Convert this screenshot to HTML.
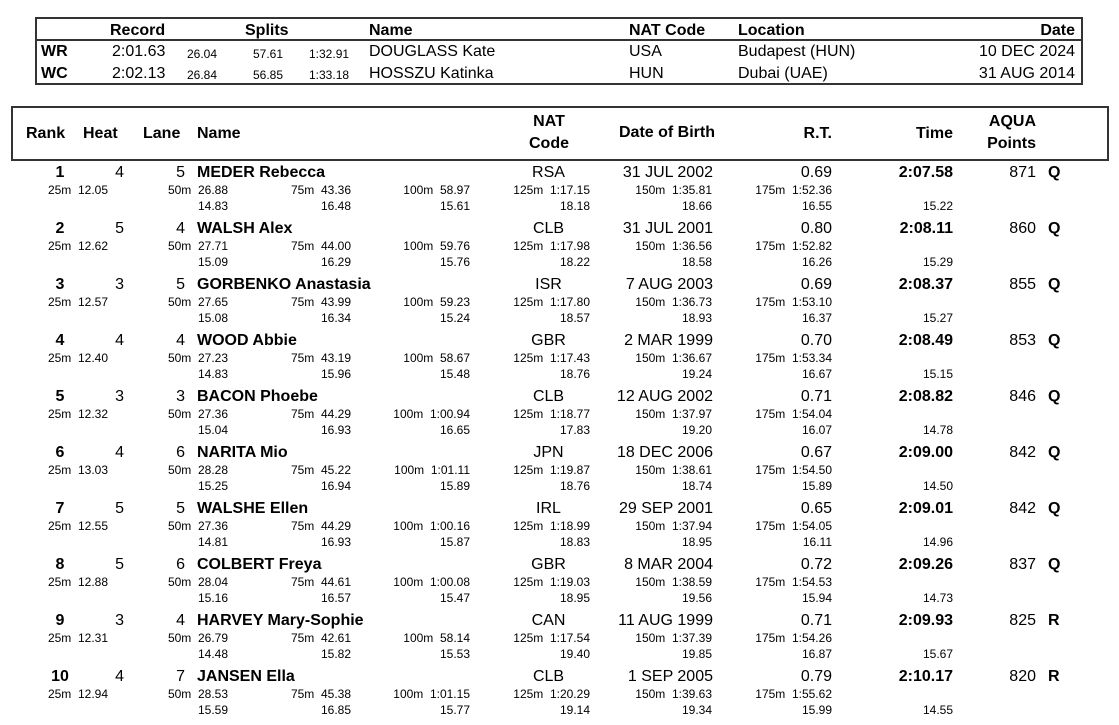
<!DOCTYPE html>
<html><head><meta charset="utf-8">
<style>
*{margin:0;padding:0;box-sizing:border-box}
body{width:1119px;height:718px;background:#fff;position:relative;overflow:hidden;font-family:"Liberation Sans",Arial,sans-serif;color:#000}
.a{position:absolute;white-space:pre;line-height:1}
.b{font-weight:bold}
.f16{font-size:16px}
.f12{font-size:12px}
.box{position:absolute;border:2px solid #333}
.hl{position:absolute;height:2px;background:#333}
.r{position:absolute;left:0;width:1119px;height:56px}
.r .a{font-size:16px;top:0}
.r .l1,.r .l2{font-size:12px}
.r .l1{top:19px}
.r .l2{top:35px}
.rk{left:36px;width:48px;text-align:center;font-weight:bold}
.ht{right:995px}
.ln{right:934px}
.nm{left:197px;font-weight:bold}
.nc{left:518px;width:61px;text-align:center}
.db{right:406px}
.rt{right:287px}
.tm{right:166px;font-weight:bold}
.pt{right:83px}
.q{left:1048px;font-weight:bold}
.c25{right:1011px}
.c50{right:891px}
.c75{right:768px}
.c100{right:649px}
.c125{right:529px}
.c150{right:407px}
.c175{right:287px}
.cf{right:166px}
</style></head><body>

<!-- Record table -->
<div class="box" style="left:35px;top:17px;width:1048px;height:68px"></div>
<div class="hl" style="left:35px;top:39px;width:1048px"></div>
<div class="a b f16" style="left:110px;top:22.5px">Record</div>
<div class="a b f16" style="left:245px;top:22.5px">Splits</div>
<div class="a b f16" style="left:369px;top:22.5px">Name</div>
<div class="a b f16" style="left:629px;top:22.5px">NAT Code</div>
<div class="a b f16" style="left:738px;top:22.5px">Location</div>
<div class="a b f16" style="right:44px;top:22.5px">Date</div>

<div class="a b f16" style="left:41px;top:44px">WR</div>
<div class="a f16" style="left:112px;top:44px">2:01.63</div>
<div class="a f12" style="left:187px;top:47.5px">26.04</div>
<div class="a f12" style="left:253px;top:47.5px">57.61</div>
<div class="a f12" style="left:309px;top:47.5px">1:32.91</div>
<div class="a f16" style="left:369px;top:44px">DOUGLASS Kate</div>
<div class="a f16" style="left:629px;top:44px">USA</div>
<div class="a f16" style="left:738px;top:44px">Budapest (HUN)</div>
<div class="a f16" style="right:44px;top:44px">10 DEC 2024</div>

<div class="a b f16" style="left:41px;top:65.5px">WC</div>
<div class="a f16" style="left:112px;top:65.5px">2:02.13</div>
<div class="a f12" style="left:187px;top:69px">26.84</div>
<div class="a f12" style="left:253px;top:69px">56.85</div>
<div class="a f12" style="left:309px;top:69px">1:33.18</div>
<div class="a f16" style="left:369px;top:65.5px">HOSSZU Katinka</div>
<div class="a f16" style="left:629px;top:65.5px">HUN</div>
<div class="a f16" style="left:738px;top:65.5px">Dubai (UAE)</div>
<div class="a f16" style="right:44px;top:65.5px">31 AUG 2014</div>

<!-- Main header -->
<div class="box" style="left:11px;top:106px;width:1098px;height:55px"></div>
<div class="a b f16" style="left:26px;top:125.5px">Rank</div>
<div class="a b f16" style="left:83px;top:125.5px">Heat</div>
<div class="a b f16" style="left:143px;top:125.5px">Lane</div>
<div class="a b f16" style="left:197px;top:125.5px">Name</div>
<div class="a b f16" style="left:518px;width:62px;text-align:center;top:113.5px">NAT</div>
<div class="a b f16" style="left:518px;width:62px;text-align:center;top:135.5px">Code</div>
<div class="a b f16" style="left:619px;top:124.5px">Date of Birth</div>
<div class="a b f16" style="right:287px;top:125.5px">R.T.</div>
<div class="a b f16" style="right:166px;top:125.5px">Time</div>
<div class="a b f16" style="right:83px;top:113.5px">AQUA</div>
<div class="a b f16" style="right:83px;top:135.5px">Points</div>

<!-- Rows -->
<div class="r" style="top:165px">
<div class="a rk">1</div><div class="a ht">4</div><div class="a ln">5</div><div class="a nm">MEDER Rebecca</div><div class="a nc">RSA</div><div class="a db">31 JUL 2002</div><div class="a rt">0.69</div><div class="a tm">2:07.58</div><div class="a pt">871</div><div class="a q">Q</div>
<div class="a l1 c25">25m  12.05</div><div class="a l1 c50">50m  26.88</div><div class="a l1 c75">75m  43.36</div><div class="a l1 c100">100m  58.97</div><div class="a l1 c125">125m  1:17.15</div><div class="a l1 c150">150m  1:35.81</div><div class="a l1 c175">175m  1:52.36</div>
<div class="a l2 c50">14.83</div><div class="a l2 c75">16.48</div><div class="a l2 c100">15.61</div><div class="a l2 c125">18.18</div><div class="a l2 c150">18.66</div><div class="a l2 c175">16.55</div><div class="a l2 cf">15.22</div>
</div>

<div class="r" style="top:221px">
<div class="a rk">2</div><div class="a ht">5</div><div class="a ln">4</div><div class="a nm">WALSH Alex</div><div class="a nc">CLB</div><div class="a db">31 JUL 2001</div><div class="a rt">0.80</div><div class="a tm">2:08.11</div><div class="a pt">860</div><div class="a q">Q</div>
<div class="a l1 c25">25m  12.62</div><div class="a l1 c50">50m  27.71</div><div class="a l1 c75">75m  44.00</div><div class="a l1 c100">100m  59.76</div><div class="a l1 c125">125m  1:17.98</div><div class="a l1 c150">150m  1:36.56</div><div class="a l1 c175">175m  1:52.82</div>
<div class="a l2 c50">15.09</div><div class="a l2 c75">16.29</div><div class="a l2 c100">15.76</div><div class="a l2 c125">18.22</div><div class="a l2 c150">18.58</div><div class="a l2 c175">16.26</div><div class="a l2 cf">15.29</div>
</div>

<div class="r" style="top:277px">
<div class="a rk">3</div><div class="a ht">3</div><div class="a ln">5</div><div class="a nm">GORBENKO Anastasia</div><div class="a nc">ISR</div><div class="a db">7 AUG 2003</div><div class="a rt">0.69</div><div class="a tm">2:08.37</div><div class="a pt">855</div><div class="a q">Q</div>
<div class="a l1 c25">25m  12.57</div><div class="a l1 c50">50m  27.65</div><div class="a l1 c75">75m  43.99</div><div class="a l1 c100">100m  59.23</div><div class="a l1 c125">125m  1:17.80</div><div class="a l1 c150">150m  1:36.73</div><div class="a l1 c175">175m  1:53.10</div>
<div class="a l2 c50">15.08</div><div class="a l2 c75">16.34</div><div class="a l2 c100">15.24</div><div class="a l2 c125">18.57</div><div class="a l2 c150">18.93</div><div class="a l2 c175">16.37</div><div class="a l2 cf">15.27</div>
</div>

<div class="r" style="top:333px">
<div class="a rk">4</div><div class="a ht">4</div><div class="a ln">4</div><div class="a nm">WOOD Abbie</div><div class="a nc">GBR</div><div class="a db">2 MAR 1999</div><div class="a rt">0.70</div><div class="a tm">2:08.49</div><div class="a pt">853</div><div class="a q">Q</div>
<div class="a l1 c25">25m  12.40</div><div class="a l1 c50">50m  27.23</div><div class="a l1 c75">75m  43.19</div><div class="a l1 c100">100m  58.67</div><div class="a l1 c125">125m  1:17.43</div><div class="a l1 c150">150m  1:36.67</div><div class="a l1 c175">175m  1:53.34</div>
<div class="a l2 c50">14.83</div><div class="a l2 c75">15.96</div><div class="a l2 c100">15.48</div><div class="a l2 c125">18.76</div><div class="a l2 c150">19.24</div><div class="a l2 c175">16.67</div><div class="a l2 cf">15.15</div>
</div>

<div class="r" style="top:389px">
<div class="a rk">5</div><div class="a ht">3</div><div class="a ln">3</div><div class="a nm">BACON Phoebe</div><div class="a nc">CLB</div><div class="a db">12 AUG 2002</div><div class="a rt">0.71</div><div class="a tm">2:08.82</div><div class="a pt">846</div><div class="a q">Q</div>
<div class="a l1 c25">25m  12.32</div><div class="a l1 c50">50m  27.36</div><div class="a l1 c75">75m  44.29</div><div class="a l1 c100">100m  1:00.94</div><div class="a l1 c125">125m  1:18.77</div><div class="a l1 c150">150m  1:37.97</div><div class="a l1 c175">175m  1:54.04</div>
<div class="a l2 c50">15.04</div><div class="a l2 c75">16.93</div><div class="a l2 c100">16.65</div><div class="a l2 c125">17.83</div><div class="a l2 c150">19.20</div><div class="a l2 c175">16.07</div><div class="a l2 cf">14.78</div>
</div>

<div class="r" style="top:445px">
<div class="a rk">6</div><div class="a ht">4</div><div class="a ln">6</div><div class="a nm">NARITA Mio</div><div class="a nc">JPN</div><div class="a db">18 DEC 2006</div><div class="a rt">0.67</div><div class="a tm">2:09.00</div><div class="a pt">842</div><div class="a q">Q</div>
<div class="a l1 c25">25m  13.03</div><div class="a l1 c50">50m  28.28</div><div class="a l1 c75">75m  45.22</div><div class="a l1 c100">100m  1:01.11</div><div class="a l1 c125">125m  1:19.87</div><div class="a l1 c150">150m  1:38.61</div><div class="a l1 c175">175m  1:54.50</div>
<div class="a l2 c50">15.25</div><div class="a l2 c75">16.94</div><div class="a l2 c100">15.89</div><div class="a l2 c125">18.76</div><div class="a l2 c150">18.74</div><div class="a l2 c175">15.89</div><div class="a l2 cf">14.50</div>
</div>

<div class="r" style="top:501px">
<div class="a rk">7</div><div class="a ht">5</div><div class="a ln">5</div><div class="a nm">WALSHE Ellen</div><div class="a nc">IRL</div><div class="a db">29 SEP 2001</div><div class="a rt">0.65</div><div class="a tm">2:09.01</div><div class="a pt">842</div><div class="a q">Q</div>
<div class="a l1 c25">25m  12.55</div><div class="a l1 c50">50m  27.36</div><div class="a l1 c75">75m  44.29</div><div class="a l1 c100">100m  1:00.16</div><div class="a l1 c125">125m  1:18.99</div><div class="a l1 c150">150m  1:37.94</div><div class="a l1 c175">175m  1:54.05</div>
<div class="a l2 c50">14.81</div><div class="a l2 c75">16.93</div><div class="a l2 c100">15.87</div><div class="a l2 c125">18.83</div><div class="a l2 c150">18.95</div><div class="a l2 c175">16.11</div><div class="a l2 cf">14.96</div>
</div>

<div class="r" style="top:557px">
<div class="a rk">8</div><div class="a ht">5</div><div class="a ln">6</div><div class="a nm">COLBERT Freya</div><div class="a nc">GBR</div><div class="a db">8 MAR 2004</div><div class="a rt">0.72</div><div class="a tm">2:09.26</div><div class="a pt">837</div><div class="a q">Q</div>
<div class="a l1 c25">25m  12.88</div><div class="a l1 c50">50m  28.04</div><div class="a l1 c75">75m  44.61</div><div class="a l1 c100">100m  1:00.08</div><div class="a l1 c125">125m  1:19.03</div><div class="a l1 c150">150m  1:38.59</div><div class="a l1 c175">175m  1:54.53</div>
<div class="a l2 c50">15.16</div><div class="a l2 c75">16.57</div><div class="a l2 c100">15.47</div><div class="a l2 c125">18.95</div><div class="a l2 c150">19.56</div><div class="a l2 c175">15.94</div><div class="a l2 cf">14.73</div>
</div>

<div class="r" style="top:613px">
<div class="a rk">9</div><div class="a ht">3</div><div class="a ln">4</div><div class="a nm">HARVEY Mary-Sophie</div><div class="a nc">CAN</div><div class="a db">11 AUG 1999</div><div class="a rt">0.71</div><div class="a tm">2:09.93</div><div class="a pt">825</div><div class="a q">R</div>
<div class="a l1 c25">25m  12.31</div><div class="a l1 c50">50m  26.79</div><div class="a l1 c75">75m  42.61</div><div class="a l1 c100">100m  58.14</div><div class="a l1 c125">125m  1:17.54</div><div class="a l1 c150">150m  1:37.39</div><div class="a l1 c175">175m  1:54.26</div>
<div class="a l2 c50">14.48</div><div class="a l2 c75">15.82</div><div class="a l2 c100">15.53</div><div class="a l2 c125">19.40</div><div class="a l2 c150">19.85</div><div class="a l2 c175">16.87</div><div class="a l2 cf">15.67</div>
</div>

<div class="r" style="top:669px">
<div class="a rk">10</div><div class="a ht">4</div><div class="a ln">7</div><div class="a nm">JANSEN Ella</div><div class="a nc">CLB</div><div class="a db">1 SEP 2005</div><div class="a rt">0.79</div><div class="a tm">2:10.17</div><div class="a pt">820</div><div class="a q">R</div>
<div class="a l1 c25">25m  12.94</div><div class="a l1 c50">50m  28.53</div><div class="a l1 c75">75m  45.38</div><div class="a l1 c100">100m  1:01.15</div><div class="a l1 c125">125m  1:20.29</div><div class="a l1 c150">150m  1:39.63</div><div class="a l1 c175">175m  1:55.62</div>
<div class="a l2 c50">15.59</div><div class="a l2 c75">16.85</div><div class="a l2 c100">15.77</div><div class="a l2 c125">19.14</div><div class="a l2 c150">19.34</div><div class="a l2 c175">15.99</div><div class="a l2 cf">14.55</div>
</div>

</body></html>
